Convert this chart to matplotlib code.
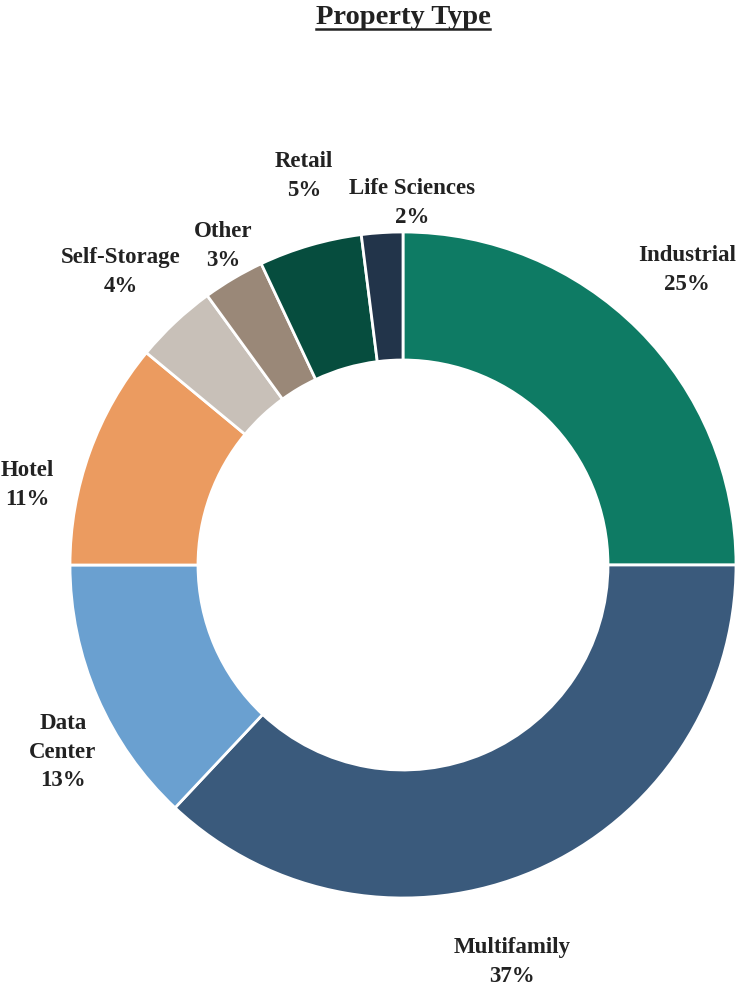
import matplotlib.pyplot as plt
from matplotlib.lines import Line2D

plt.rcParams['font.family'] = ['Liberation Serif', 'DejaVu Serif']
plt.rcParams['font.weight'] = 'bold'

categories = ['Industrial', 'Multifamily', 'Data Center', 'Hotel',
              'Self-Storage', 'Other', 'Retail', 'Life Sciences']
shares = [25, 37, 13, 11, 4, 3, 5, 2]
label_texts = ['Industrial', 'Multifamily', 'Data\nCenter', 'Hotel',
               'Self-Storage', 'Other', 'Retail', 'Life Sciences']
colors = ['#0e7b64', '#3a5a7c', '#6aa0d0', '#eb9b60',
          '#c8c0b8', '#9a8878', '#064d3e', '#22344a']

# label centres in pixels (x, y from top)
label_pos = [(687, 270), (512, 962), (63, 752), (27, 485),
             (121, 272), (223, 246), (304, 176), (412, 203)]

W, H = 738, 991
fig = plt.figure(figsize=(W / 100, H / 100), dpi=100)
ax = fig.add_axes([0, 0, 1, 1])
ax.axis('off')

ax.pie(shares, colors=colors, center=(403, H - 565), radius=333,
       startangle=90, counterclock=False,
       wedgeprops=dict(width=128, edgecolor='white', linewidth=2))
ax.set_xlim(0, W)
ax.set_ylim(0, H)
ax.set_aspect('auto')

for txt, val, (px, py) in zip(label_texts, shares, label_pos):
    ax.text(px, H - py, f'{txt}\n{val}%', ha='center', va='center',
            fontsize=16.5, color='#222222', linespacing=1.45)

title = ax.text(403, H - 17, 'Property Type', ha='center', va='center',
                fontsize=20.5, color='#222222')

fig.canvas.draw()
bb = title.get_window_extent().transformed(fig.transFigure.inverted())
uy = (H - 29) / H
fig.add_artist(Line2D([bb.x0, bb.x1], [uy, uy], color='#222222', lw=1.8,
                      transform=fig.transFigure))

fig.savefig('out.png', dpi=100)
